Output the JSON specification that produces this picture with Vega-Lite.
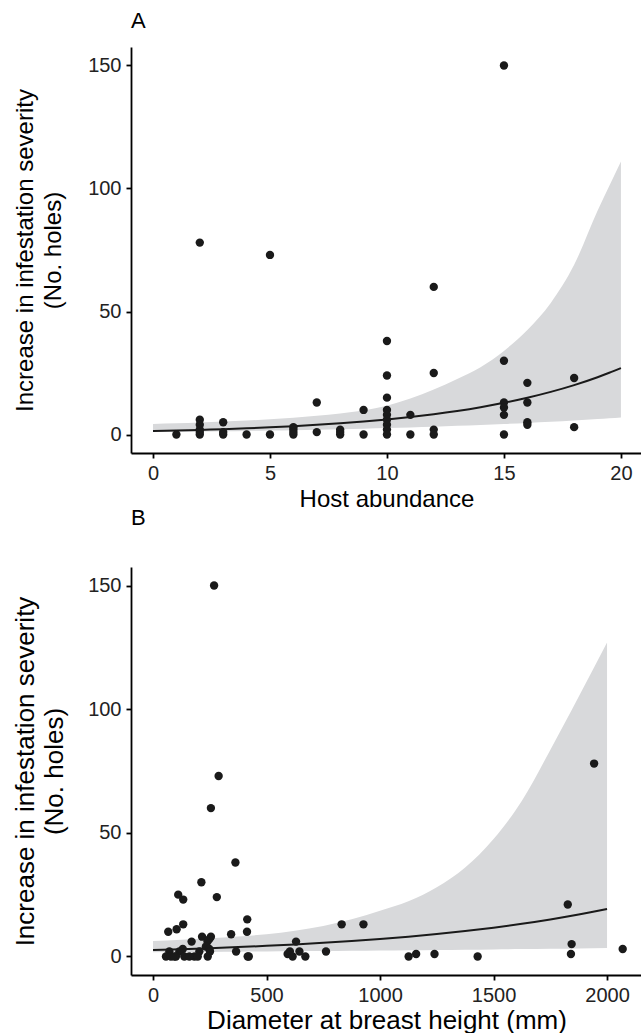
{
  "$schema": "https://vega.github.io/schema/vega-lite/v6.json",
  "background": "white",
  "padding": {"left": 12, "top": 10, "right": 0, "bottom": 0},
  "bounds": "flush",
  "spacing": 114,
  "config": {
    "view": {"stroke": null},
    "font": "Liberation Sans",
    "axis": {
      "grid": false,
      "domainColor": "#000000",
      "domainWidth": 1.8,
      "tickColor": "#000000",
      "tickWidth": 1.8,
      "tickSize": 5,
      "labelPadding": 5,
      "labelFontSize": 20,
      "labelColor": "#222222",
      "labelFont": "Liberation Sans",
      "titleFont": "Liberation Sans",
      "titleFontSize": 24,
      "titleFontWeight": "normal",
      "titleColor": "#000000",
      "titleLineHeight": 28
    },
    "title": {"fontSize": 22, "fontWeight": "normal", "anchor": "start", "frame": "group", "offset": 14, "font": "Liberation Sans", "color": "#000000"}
  },
  "datasets": {
    "ptsA": [
      {"x":1,"y":0},{"x":2,"y":78},{"x":2,"y":6},{"x":2,"y":4},{"x":2,"y":2},{"x":2,"y":1},{"x":2,"y":0},
      {"x":3,"y":5},{"x":3,"y":1},{"x":3,"y":0},{"x":4,"y":0},{"x":5,"y":73},{"x":5,"y":0},
      {"x":6,"y":3},{"x":6,"y":2},{"x":6,"y":1},{"x":6,"y":0},{"x":7,"y":13},{"x":7,"y":1},
      {"x":8,"y":2},{"x":8,"y":1},{"x":8,"y":0},{"x":9,"y":10},{"x":9,"y":0},
      {"x":10,"y":38},{"x":10,"y":24},{"x":10,"y":15},{"x":10,"y":10},{"x":10,"y":8},{"x":10,"y":6},{"x":10,"y":4},{"x":10,"y":2},{"x":10,"y":0},
      {"x":11,"y":8},{"x":11,"y":0},{"x":12,"y":60},{"x":12,"y":25},{"x":12,"y":2},{"x":12,"y":0},
      {"x":15,"y":150},{"x":15,"y":30},{"x":15,"y":13},{"x":15,"y":11},{"x":15,"y":8},{"x":15,"y":0},
      {"x":16,"y":21},{"x":16,"y":13},{"x":16,"y":5},{"x":16,"y":4},{"x":18,"y":23},{"x":18,"y":3}
    ],
    "fitA": [
      {"x":0,"fit":1.40,"lower":1.00,"upper":4.3},
      {"x":1,"fit":1.62,"lower":1.10,"upper":4.6},
      {"x":2,"fit":1.88,"lower":1.21,"upper":4.9},
      {"x":3,"fit":2.18,"lower":1.34,"upper":5.3},
      {"x":4,"fit":2.53,"lower":1.47,"upper":5.7},
      {"x":5,"fit":2.93,"lower":1.62,"upper":6.2},
      {"x":6,"fit":3.40,"lower":1.79,"upper":6.8},
      {"x":7,"fit":3.95,"lower":1.97,"upper":7.6},
      {"x":8,"fit":4.57,"lower":2.17,"upper":8.6},
      {"x":9,"fit":5.30,"lower":2.39,"upper":9.8},
      {"x":10,"fit":6.15,"lower":2.64,"upper":11.7},
      {"x":11,"fit":7.13,"lower":2.91,"upper":14.6},
      {"x":12,"fit":8.27,"lower":3.20,"upper":18.3},
      {"x":13,"fit":9.59,"lower":3.53,"upper":22.6},
      {"x":14,"fit":11.12,"lower":3.89,"upper":27.4},
      {"x":15,"fit":12.89,"lower":4.28,"upper":34.0},
      {"x":16,"fit":14.95,"lower":4.72,"upper":42.5},
      {"x":17,"fit":17.33,"lower":5.20,"upper":53.5},
      {"x":18,"fit":20.09,"lower":5.73,"upper":69.0},
      {"x":19,"fit":23.30,"lower":6.31,"upper":91.0},
      {"x":19.5,"fit":25.10,"lower":6.63,"upper":101.0},
      {"x":20,"fit":27.02,"lower":6.96,"upper":111.0}
    ],
    "ptsB": [
      {"d":269,"y":150},{"d":1943,"y":78},{"d":289,"y":73},{"d":255,"y":60},{"d":363,"y":38},{"d":213,"y":30},
      {"d":111,"y":25},{"d":281,"y":24},{"d":133,"y":23},{"d":1827,"y":21},{"d":415,"y":15},{"d":133,"y":13},
      {"d":831,"y":13},{"d":927,"y":13},{"d":104,"y":11},{"d":67,"y":10},{"d":414,"y":10},{"d":344,"y":9},
      {"d":216,"y":8},{"d":255,"y":8},{"d":248,"y":7},{"d":630,"y":6},{"d":170,"y":6},{"d":240,"y":6},
      {"d":1844,"y":5},{"d":233,"y":4},{"d":131,"y":3},{"d":2069,"y":3},{"d":248,"y":3},{"d":72,"y":2},
      {"d":116,"y":2},{"d":204,"y":2},{"d":366,"y":2},{"d":645,"y":2},{"d":762,"y":2},{"d":251,"y":2},
      {"d":603,"y":2},{"d":593,"y":1},{"d":1159,"y":1},{"d":1240,"y":1},{"d":1841,"y":1},
      {"d":57,"y":0},{"d":79,"y":0},{"d":101,"y":0},{"d":138,"y":0},{"d":182,"y":0},{"d":197,"y":0},
      {"d":241,"y":0},{"d":417,"y":0},{"d":422,"y":0},{"d":615,"y":0},{"d":671,"y":0},{"d":1126,"y":0},
      {"d":1430,"y":0},{"d":94,"y":0},{"d":160,"y":0}
    ],
    "fitB": [
      {"d":0,"fit":2.60,"lower":1.70,"upper":6.3},
      {"d":125,"fit":2.95,"lower":1.77,"upper":6.8},
      {"d":250,"fit":3.34,"lower":1.85,"upper":7.4},
      {"d":375,"fit":3.78,"lower":1.93,"upper":8.1},
      {"d":500,"fit":4.29,"lower":2.02,"upper":9.0},
      {"d":625,"fit":4.86,"lower":2.11,"upper":10.4},
      {"d":750,"fit":5.50,"lower":2.20,"upper":12.3},
      {"d":875,"fit":6.24,"lower":2.30,"upper":15.0},
      {"d":1000,"fit":7.07,"lower":2.41,"upper":18.5},
      {"d":1125,"fit":8.01,"lower":2.52,"upper":22.3},
      {"d":1250,"fit":9.07,"lower":2.63,"upper":28.0},
      {"d":1375,"fit":10.28,"lower":2.74,"upper":36.0},
      {"d":1500,"fit":11.65,"lower":2.86,"upper":47.5},
      {"d":1625,"fit":13.20,"lower":2.99,"upper":63.0},
      {"d":1750,"fit":14.96,"lower":3.12,"upper":83.5},
      {"d":1875,"fit":16.95,"lower":3.26,"upper":105.0},
      {"d":2000,"fit":19.21,"lower":3.40,"upper":127.0}
    ]
  },
  "vconcat": [
    {
      "width": 511,
      "height": 406,
      "title": {"text": "A"},
      "layer": [
        {
          "data": {"name": "fitA"},
          "mark": {"type": "area", "color": "#d8d9db", "opacity": 1, "interpolate": "monotone"},
          "encoding": {
            "x": {"field": "x", "type": "quantitative", "scale": {"domain": [-0.94, 20.9], "nice": false, "zero": false}, "axis": {"values": [0, 5, 10, 15, 20], "format": "d", "title": "Host abundance"}},
            "y": {"field": "lower", "type": "quantitative", "scale": {"domain": [-7.5, 157.5], "nice": false, "zero": false}, "axis": {"values": [0, 50, 100, 150], "format": "d", "title": ["Increase in infestation severity", "(No. holes)"], "titlePadding": 22}},
            "y2": {"field": "upper"}
          }
        },
        {
          "data": {"name": "fitA"},
          "mark": {"type": "line", "color": "#1a1a1a", "strokeWidth": 2, "interpolate": "monotone"},
          "encoding": {
            "x": {"field": "x", "type": "quantitative"},
            "y": {"field": "fit", "type": "quantitative"}
          }
        },
        {
          "data": {"name": "ptsA"},
          "mark": {"type": "circle", "size": 70, "color": "#1a1a1a", "opacity": 1},
          "encoding": {
            "x": {"field": "x", "type": "quantitative"},
            "y": {"field": "y", "type": "quantitative"}
          }
        }
      ]
    },
    {
      "width": 511,
      "height": 408,
      "title": {"text": "B", "offset": 37},
      "layer": [
        {
          "data": {"name": "fitB"},
          "mark": {"type": "area", "color": "#d8d9db", "opacity": 1, "interpolate": "monotone"},
          "encoding": {
            "x": {"field": "d", "type": "quantitative", "scale": {"domain": [-97, 2154], "nice": false, "zero": false}, "axis": {"values": [0, 500, 1000, 1500, 2000], "format": "d", "title": "Diameter at breast height (mm)", "titleFontSize": 26, "titlePadding": 2}},
            "y": {"field": "lower", "type": "quantitative", "scale": {"domain": [-7.5, 157.5], "nice": false, "zero": false}, "axis": {"values": [0, 50, 100, 150], "format": "d", "title": ["Increase in infestation severity", "(No. holes)"], "titlePadding": 20, "titleFontSize": 26, "titleLineHeight": 29}},
            "y2": {"field": "upper"}
          }
        },
        {
          "data": {"name": "fitB"},
          "mark": {"type": "line", "color": "#1a1a1a", "strokeWidth": 2, "interpolate": "monotone"},
          "encoding": {
            "x": {"field": "d", "type": "quantitative"},
            "y": {"field": "fit", "type": "quantitative"}
          }
        },
        {
          "data": {"name": "ptsB"},
          "mark": {"type": "circle", "size": 70, "color": "#1a1a1a", "opacity": 1},
          "encoding": {
            "x": {"field": "d", "type": "quantitative"},
            "y": {"field": "y", "type": "quantitative"}
          }
        }
      ]
    }
  ]
}
